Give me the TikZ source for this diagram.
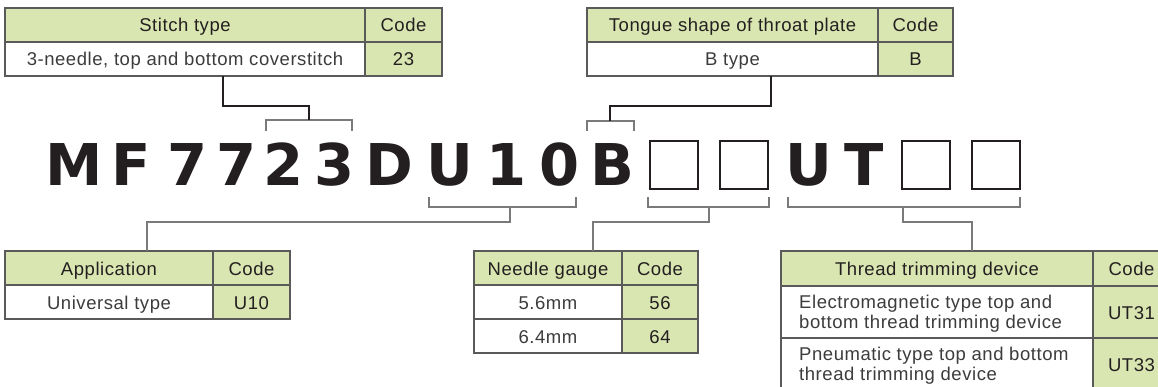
\documentclass[tikz,border=0pt]{standalone}
\usepackage{fontspec}
\setmainfont{Liberation Sans}[LetterSpace=3]
\newfontfamily\codefont{DejaVu Sans}
\definecolor{hgreen}{HTML}{DAE6B1}
\definecolor{ink}{HTML}{231F20}
\definecolor{txt}{HTML}{3C3C3C}
\definecolor{rule}{HTML}{5A5A5A}
\definecolor{brk}{HTML}{7A7A7A}
\begin{document}
\begin{tikzpicture}[x=1pt,y=-1pt,
 cell/.style={draw=rule, line width=1.1pt, anchor=north west, inner sep=0pt, outer sep=0pt, text height=14pt, text depth=0pt, font=\fontsize{18.5}{20}\selectfont},
 hcell/.style={cell, fill=hgreen, text=ink},
 dcell/.style={cell, fill=white, text=txt},
 ccell/.style={cell, fill=hgreen, text=ink},
 ltxt/.style={anchor=base west, inner sep=0pt, text=txt, font=\fontsize{18.5}{20}\selectfont},
 ch/.style={anchor=base, inner sep=0pt, text=ink, font=\codefont\bfseries\fontsize{57.6}{60}\selectfont},
 sq/.style={draw=ink, line width=1.6pt, minimum width=48pt, minimum height=48pt, inner sep=0pt, anchor=north west},
 conn/.style={draw=ink, line width=1.1pt},
 bconn/.style={draw=brk, line width=1.2pt},
 brace/.style={draw=brk, line width=1.3pt},
]
\useasboundingbox (0,0) rectangle (1158,387);
\clip (0,0) rectangle (1158,387);

% ---------- Stitch type table ----------
\node[hcell, minimum width=360pt, minimum height=34pt] (st-h1) at (5,8) {Stitch type};
\node[hcell, minimum width=77pt, minimum height=34pt] (st-h2) at (365,8) {Code};
\node[dcell, minimum width=360pt, minimum height=34pt] (st-d1) at (5,42) {3-needle, top and bottom coverstitch};
\node[ccell, minimum width=77pt, minimum height=34pt] (st-d2) at (365,42) {23};

% ---------- Tongue shape table ----------
\node[hcell, minimum width=291pt, minimum height=34pt] (tp-h1) at (587,8) {Tongue shape of throat plate};
\node[hcell, minimum width=75pt, minimum height=34pt] (tp-h2) at (878,8) {Code};
\node[dcell, minimum width=291pt, minimum height=34pt] (tp-d1) at (587,42) {B type};
\node[ccell, minimum width=75pt, minimum height=34pt] (tp-d2) at (878,42) {B};

% ---------- Model code ----------
\node[ch] (c1) at (74,186) {M};
\node[ch] (c2) at (131.5,186) {F};
\node[ch] (c3) at (187.5,186) {7};
\node[ch] (c4) at (237,186) {7};
\node[ch] (c5) at (284,186) {2};
\node[ch] (c6) at (335,186) {3};
\node[ch] (c7) at (389,186) {D};
\node[ch] (c8) at (449.5,186) {U};
\node[ch] (c9) at (507,186) {1};
\node[ch] (c10) at (560,186) {0};
\node[ch] (c11) at (612,186) {B};
\node[sq] (b1) at (649,140) {};
\node[sq] (b2) at (719,140) {};
\node[ch] (c12) at (808.5,186) {U};
\node[ch] (c13) at (864.5,186) {T};
\node[sq] (b3) at (901,140) {};
\node[sq] (b4) at (971,140) {};

% ---------- Application table ----------
\node[hcell, minimum width=208pt, minimum height=34pt] (ap-h1) at (5,251) {Application};
\node[hcell, minimum width=77pt, minimum height=34pt] (ap-h2) at (213,251) {Code};
\node[dcell, minimum width=208pt, minimum height=34pt] (ap-d1) at (5,285) {Universal type};
\node[ccell, minimum width=77pt, minimum height=34pt] (ap-d2) at (213,285) {U10};

% ---------- Needle gauge table ----------
\node[hcell, minimum width=148pt, minimum height=34pt] (ng-h1) at (474,251) {Needle gauge};
\node[hcell, minimum width=76pt, minimum height=34pt] (ng-h2) at (622,251) {Code};
\node[dcell, minimum width=148pt, minimum height=34pt] (ng-d1) at (474,285) {5.6mm};
\node[ccell, minimum width=76pt, minimum height=34pt] (ng-d2) at (622,285) {56};
\node[dcell, minimum width=148pt, minimum height=34pt] (ng-e1) at (474,319) {6.4mm};
\node[ccell, minimum width=76pt, minimum height=34pt] (ng-e2) at (622,319) {64};

% ---------- Thread trimming table ----------
\node[hcell, minimum width=312pt, minimum height=35pt] (tt-h1) at (781,251) {Thread trimming device};
\node[hcell, minimum width=77pt, minimum height=35pt] (tt-h2) at (1093,251) {Code};
\node[dcell, minimum width=312pt, minimum height=52pt] (tt-d1) at (781,286) {};
\node[ccell, minimum width=77pt, minimum height=52pt] (tt-d2) at (1093,286) {UT31};
\node[dcell, minimum width=312pt, minimum height=52pt] (tt-e1) at (781,338) {};
\node[ccell, minimum width=77pt, minimum height=52pt] (tt-e2) at (1093,338) {UT33};
\node[ltxt] (tt-d1a) at (799,308) {Electromagnetic type top and};
\node[ltxt] (tt-d1b) at (799,328) {bottom thread trimming device};
\node[ltxt] (tt-e1a) at (799,360) {Pneumatic type top and bottom};
\node[ltxt] (tt-e1b) at (799,380) {thread trimming device};

% ---------- brackets ----------
\coordinate (k-st) at (223,106);
\coordinate (br-st) at (309,120);
\draw[brace] (266,131) -- (266,120) -- (352,120) -- (352,131);
\draw[conn] (st-d1.south -| k-st) -- (k-st) -| (br-st);

\coordinate (k-tp) at (771,106);
\coordinate (br-tp) at (610,121);
\draw[brace] (587,131) -- (587,121) -- (634,121) -- (634,131);
\draw[conn] (tp-d1.south -| k-tp) -- (k-tp) -| (br-tp);

\coordinate (br-ap) at (510,207);
\coordinate (k-ap) at (147,222);
\draw[brace] (429,197) -- (429,207) -- (576,207) -- (576,197);
\draw[bconn] (br-ap) |- (k-ap) -- (ap-h1.north -| k-ap);

\coordinate (br-ng) at (709,207);
\coordinate (k-ng) at (593,222);
\draw[brace] (648,197) -- (648,207) -- (769,207) -- (769,197);
\draw[bconn] (br-ng) |- (k-ng) -- (ng-h1.north -| k-ng);

\coordinate (br-tt) at (903,207);
\coordinate (k-tt) at (972,222);
\draw[brace] (788,197) -- (788,207) -- (1020,207) -- (1020,197);
\draw[bconn] (br-tt) |- (k-tt) -- (tt-h1.north -| k-tt);
\end{tikzpicture}
\end{document}
